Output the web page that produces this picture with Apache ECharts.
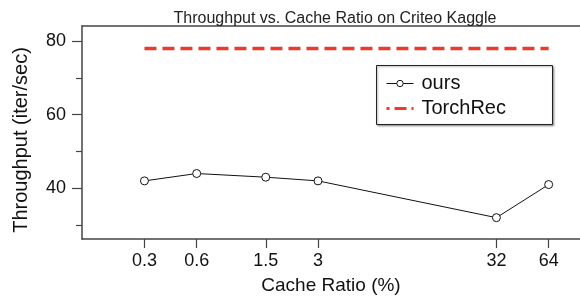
<!DOCTYPE html>
<html><head><meta charset="utf-8">
<script src="https://cdn.jsdelivr.net/npm/echarts@6/dist/echarts.min.js"></script>
<style>html,body{margin:0;padding:0;background:#fff}#c{width:580px;height:297px}</style>
</head><body><div id="c"></div>
<script>
const cacheRatios = [0.3, 0.6, 1.5, 3, 32, 64];
const oursValues = [42, 44, 43, 42, 32, 41];
const torchRecValues = [78, 78, 78, 78, 78, 78];
const yMajorTicks = [40, 60, 80];
const yMinorTicks = [30, 50, 70];

const FONT = '"Liberation Sans", Arial, Helvetica, sans-serif';
const chart = echarts.init(document.getElementById('c'), null, {renderer: 'canvas'});
const axisColor = '#444';
const red = '#ee3a2c';
chart.setOption({
  animation: false,
  title: {
    text: 'Throughput vs. Cache Ratio on Criteo Kaggle',
    left: 330, top: 6, textAlign: 'center',
    textStyle: {fontFamily: FONT, fontSize: 16, fontWeight: 'normal', color: '#222'}
  },
  grid: {left: 82, right: 0, top: 26, bottom: 58, outerBoundsMode: 'none', containLabel: false},
  graphic: [{
    type: 'rect', shape: {x: 376.5, y: 65.5, width: 176, height: 59},
    style: {fill: '#fff', stroke: '#222', lineWidth: 1, shadowColor: 'rgba(0,0,0,0.35)', shadowBlur: 2, shadowOffsetX: 1, shadowOffsetY: 1},
    z: 50
  }],
  legend: {
    orient: 'vertical', left: 385, top: 71, padding: 0, z: 60,
    itemWidth: 27, itemHeight: 8, itemGap: 0,
    textStyle: {fontFamily: FONT, fontSize: 20, color: '#111', lineHeight: 25, padding: [0, 0, 0, 3]},
    data: [
      {name: 'ours', itemStyle: {color: '#fff', borderColor: '#111', borderWidth: 1}, lineStyle: {color: '#111', width: 1}},
      {name: 'TorchRec', itemStyle: {opacity: 0}, lineStyle: {color: red, width: 3, type: [3, 5, 12, 5, 2]}}
    ]
  },
  xAxis: [{
    type: 'log', min: 0.131, max: 97,
    name: 'Cache Ratio (%)', nameLocation: 'middle', nameGap: 37,
    nameTextStyle: {fontFamily: FONT, fontSize: 19, color: '#111'},
    axisLine: {show: true, lineStyle: {color: axisColor, width: 1.5}},
    axisTick: {show: true, length: 9, customValues: cacheRatios, lineStyle: {color: axisColor, width: 1.2}},
    axisLabel: {show: true, customValues: cacheRatios, margin: 13, fontFamily: FONT, fontSize: 18, color: '#111',
      formatter: v => String(v)},
    splitLine: {show: false}, minorTick: {show: false}
  }, {
    type: 'value', position: 'top', min: 0, max: 1,
    axisLine: {show: true, lineStyle: {color: axisColor, width: 1.5}},
    axisTick: {show: false}, axisLabel: {show: false}, splitLine: {show: false}
  }],
  yAxis: [{
    type: 'value', min: 26.2, max: 84.1,
    name: 'Throughput (iter/sec)', nameLocation: 'middle', nameGap: 51,
    nameTextStyle: {fontFamily: FONT, fontSize: 20, color: '#111', padding: [0, 15, 0, 0]},
    axisLine: {show: true, lineStyle: {color: axisColor, width: 1.5}},
    axisTick: {show: true, length: 10, customValues: yMajorTicks, lineStyle: {color: axisColor, width: 1.2}},
    axisLabel: {show: true, customValues: yMajorTicks, margin: 16, fontFamily: FONT, fontSize: 18, color: '#111'},
    splitLine: {show: false}
  }, {
    type: 'value', position: 'left', min: 26.2, max: 84.1,
    axisLine: {show: false},
    axisTick: {show: true, length: 6, customValues: yMinorTicks, lineStyle: {color: axisColor, width: 1.2}},
    axisLabel: {show: false}, splitLine: {show: false}
  }],
  series: [{
    name: 'ours', type: 'line', xAxisIndex: 0, yAxisIndex: 0,
    data: cacheRatios.map((c, i) => [c, oursValues[i]]),
    symbol: 'circle', symbolSize: 8, showSymbol: true,
    lineStyle: {color: '#111', width: 1},
    itemStyle: {color: '#fff', borderColor: '#111', borderWidth: 1},
    z: 3
  }, {
    name: 'TorchRec', type: 'line', xAxisIndex: 0, yAxisIndex: 0,
    data: cacheRatios.map((c, i) => [c, torchRecValues[i]]),
    symbol: 'none',
    lineStyle: {color: red, width: 3.5, type: [12, 6]},
    itemStyle: {color: red},
    z: 2
  }]
});
</script></body></html>
